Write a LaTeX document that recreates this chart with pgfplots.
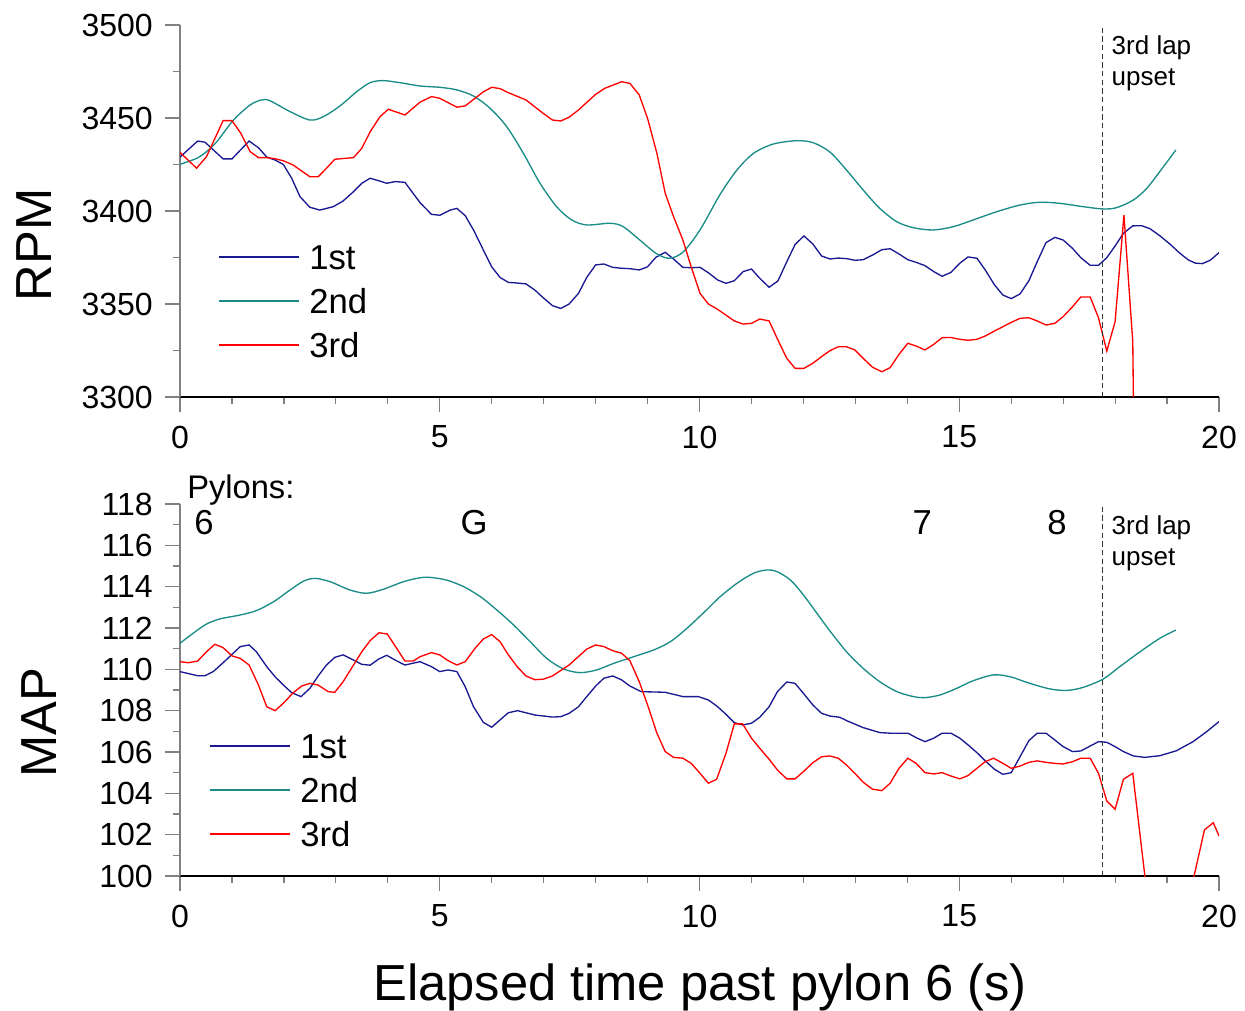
\documentclass[border=0pt]{standalone}
\usepackage{pgfplots}
\pgfplotsset{compat=1.18}
\usepackage{fontspec}
\setmainfont{Liberation Sans}
\definecolor{c1}{RGB}{25,25,145}
\definecolor{c2}{RGB}{25,140,135}
\definecolor{c3}{RGB}{255,0,0}
\pgfplotsset{
 panel/.style={
  scale only axis, width=779.25pt, height=279pt,
  xmin=0, xmax=20, xtick={0,5,...,20}, minor x tick num=4,
  axis x line=bottom, axis y line=left,
  x axis line style={-, black, line width=0.9pt},
  y axis line style={-, gray, line width=0.9pt},
  tick align=outside, major tick length=11.25pt, minor tick length=5.6pt,
  tick style={gray, line width=0.9pt},
  /pgf/number format/assume math mode=true,
  /pgf/number format/1000 sep={},
  ticklabel style={font=\fontsize{24}{28}\selectfont},
  xticklabel style={anchor=center, inner sep=0pt, yshift=-18.75pt},
  yticklabel style={anchor=east, inner sep=0pt, xshift=-9pt},
  clip mode=individual,
  legend cell align=left,
  legend image code/.code={\draw[##1] (0pt,0pt) -- (60pt,0pt);},
  every axis y label/.style={at={(axis description cs:-0.1232,0.409)}, rotate=90, anchor=base, font=\fontsize{38}{44}\selectfont},
 },
 lg/.style={draw=none, fill=none, inner sep=0pt, outer sep=0pt,
  font=\fontsize{26}{30}\selectfont, row sep=15pt,
  nodes={inner sep=0pt, text height=18pt, text depth=0pt},
  /tikz/every odd column/.append style={column sep=7.5pt}},
 s1/.style={c1, line width=1pt},
 s2/.style={c2, line width=1pt, smooth},
 s3/.style={c3, line width=1pt},
 dsh/.style={black!80, line width=0.8pt, dash pattern=on 4pt off 2.5pt, forget plot},
}
\begin{document}
\begin{tikzpicture}
\useasboundingbox (0,0) rectangle (933.75pt,757.5pt);
% ---------------- top: RPM
\begin{axis}[panel, at={(135pt,459.75pt)}, anchor=south west,
  ymin=3300, ymax=3500, ytick={3300,3350,...,3500}, minor y tick num=1,
  ylabel={RPM},
  legend style={lg, at={(axis cs:0.731,3381.7)}, anchor=north west}]
\addplot[s1] coordinates {(0,3429) (0.34,3437.6) (0.48,3437) (0.83,3428) (1.0,3428) (1.33,3437.6) (1.51,3434) (1.67,3429) (1.83,3427.4) (1.99,3425) (2.15,3417.6) (2.31,3407.7) (2.50,3402) (2.69,3400.5) (2.95,3402.3) (3.14,3405.4) (3.34,3410.4) (3.50,3414.9) (3.66,3417.6) (3.82,3416.3) (3.98,3414.9) (4.14,3415.8) (4.33,3415.4) (4.62,3404.5) (4.84,3398.2) (5.00,3397.7) (5.20,3400.5) (5.33,3401.4) (5.49,3397.5) (5.65,3389.8) (5.84,3379) (6.00,3370) (6.16,3364.3) (6.32,3361.6) (6.48,3361.3) (6.66,3360.8) (6.83,3357.5) (6.99,3353.4) (7.17,3349.1) (7.33,3347.6) (7.49,3350) (7.67,3355.7) (7.83,3364.3) (8.00,3371) (8.16,3371.5) (8.33,3369.7) (8.50,3369.2) (8.66,3369) (8.84,3368.3) (9.00,3370) (9.16,3375.1) (9.34,3377.8) (9.50,3374.2) (9.68,3369.7) (9.84,3369.5) (10.01,3369.7) (10.17,3366.8) (10.35,3362.9) (10.51,3361.1) (10.67,3362.5) (10.84,3367.4) (11.00,3368.8) (11.16,3363.8) (11.34,3359) (11.51,3362.4) (11.68,3372.7) (11.84,3382) (12.01,3386.6) (12.18,3382.3) (12.35,3375.8) (12.51,3374.2) (12.67,3374.7) (12.83,3374.4) (12.99,3373.5) (13.15,3373.8) (13.33,3376.3) (13.51,3379.2) (13.67,3379.7) (13.84,3376.9) (14.01,3373.8) (14.17,3372.4) (14.34,3370.6) (14.51,3367.4) (14.67,3364.9) (14.84,3367) (15.01,3371.9) (15.17,3375.3) (15.34,3374.6) (15.50,3368.3) (15.68,3360.2) (15.84,3354.8) (16.00,3352.9) (16.17,3355.4) (16.34,3362.5) (16.50,3372.7) (16.67,3383) (16.84,3385.8) (17.00,3384.4) (17.18,3379.9) (17.34,3374.9) (17.52,3370.8) (17.68,3370.8) (17.84,3374.9) (18.00,3381.2) (18.16,3388) (18.34,3392) (18.51,3392.1) (18.67,3390.5) (18.86,3386.7) (19.06,3382.1) (19.25,3377.2) (19.41,3373.7) (19.54,3372) (19.68,3371.7) (19.83,3373.5) (20.0,3377.6)};
\addplot[s2] coordinates {(0,3425.1) (0.32,3428.3) (0.51,3431.9) (0.71,3437.3) (1.03,3448.9) (1.35,3457) (1.57,3459.7) (1.73,3459.3) (2.12,3453.4) (2.50,3448.9) (2.76,3450.7) (3.08,3456.5) (3.40,3464.1) (3.66,3469) (3.91,3470.1) (4.23,3469) (4.62,3467.2) (5.00,3466.5) (5.33,3465.1) (5.65,3461.8) (5.97,3455.2) (6.29,3445.3) (6.61,3431) (6.93,3414.9) (7.25,3402.3) (7.54,3395.2) (7.83,3392.5) (8.28,3393.4) (8.53,3391.6) (8.85,3384.4) (9.18,3376.9) (9.43,3374.6) (9.69,3378.1) (10.01,3389.8) (10.39,3408.6) (10.72,3422) (11.04,3431) (11.42,3436) (11.87,3437.8) (12.19,3436.7) (12.51,3431.7) (12.83,3422) (13.15,3411.3) (13.47,3401.4) (13.80,3394.2) (14.12,3391) (14.50,3389.8) (14.89,3391.6) (15.27,3395.2) (15.72,3399.6) (16.17,3403.2) (16.55,3404.7) (16.94,3404.1) (17.39,3402.3) (17.77,3401.1) (18.03,3401.8) (18.35,3405.9) (18.61,3412.2) (18.93,3423.8) (19.17,3432.8)};
\addplot[s3] coordinates {(0,3431.5) (0.32,3423) (0.51,3429.2) (0.83,3448.6) (1.00,3448.6) (1.17,3441.8) (1.35,3431.9) (1.51,3428.7) (1.67,3428.7) (1.83,3428.1) (1.99,3427) (2.18,3424.7) (2.50,3418.4) (2.66,3418.4) (2.82,3423) (2.98,3427.8) (3.34,3428.7) (3.50,3433.7) (3.66,3442.6) (3.85,3450.7) (4.01,3454.7) (4.33,3451.6) (4.62,3458.5) (4.84,3461.5) (5.00,3460.6) (5.33,3455.8) (5.49,3456.5) (5.68,3460.6) (5.84,3464.1) (6.00,3466.5) (6.16,3465.8) (6.32,3463.6) (6.66,3459.7) (6.99,3452.5) (7.17,3448.9) (7.33,3448.4) (7.49,3450.4) (7.67,3454.3) (8.00,3462.7) (8.18,3466) (8.50,3469.5) (8.66,3468.6) (8.84,3462.4) (9.00,3449.8) (9.18,3431) (9.34,3409.5) (9.50,3397) (9.68,3384.4) (9.84,3370) (10.01,3355.7) (10.17,3350) (10.35,3347.1) (10.67,3340.9) (10.84,3339.2) (11.00,3339.6) (11.16,3341.9) (11.34,3340.9) (11.51,3330.6) (11.68,3320.8) (11.84,3315.4) (12.01,3315.4) (12.18,3318.1) (12.35,3321.7) (12.51,3324.9) (12.67,3327) (12.83,3327) (12.99,3325.3) (13.15,3320.8) (13.33,3316) (13.51,3313.6) (13.67,3315.8) (13.84,3322.9) (14.01,3328.9) (14.17,3327.4) (14.34,3325.3) (14.51,3328.3) (14.67,3331.9) (14.84,3332) (15.01,3331) (15.17,3330.5) (15.34,3331) (15.50,3332.8) (15.68,3335.5) (16.00,3340.1) (16.17,3342.3) (16.34,3342.6) (16.50,3340.9) (16.67,3338.7) (16.84,3339.6) (17.00,3343.2) (17.18,3348.5) (17.34,3353.8) (17.52,3353.8) (17.68,3342.6) (17.84,3324.7) (18.00,3340.5) (18.17,3397.8) (18.34,3329.7) (18.36,3280)};
\addplot[dsh] coordinates {(17.76,3300) (17.76,3500)};
\legend{1st,2nd,3rd}
\node[anchor=base west, inner sep=0pt, font=\fontsize{19.5}{22}\selectfont] at (axis cs:17.93,3484.4) {3rd lap};
\node[anchor=base west, inner sep=0pt, font=\fontsize{19.5}{22}\selectfont] at (axis cs:17.93,3467.7) {upset};
\end{axis}
% ---------------- bottom: MAP
\begin{axis}[panel, at={(135pt,100.5pt)}, anchor=south west,
  ymin=100, ymax=118, ytick={100,102,...,118}, minor y tick num=1,
  ylabel={MAP},
  every axis y label/.style={at={(axis description cs:-0.1184,0.413)}, rotate=90, anchor=base, font=\fontsize{38}{44}\selectfont},
  xlabel={Elapsed time past pylon 6 (s)},
  every axis x label/.style={at={(axis description cs:0.5005,-0.336)}, anchor=base, font=\fontsize{38}{44}\selectfont},
  legend style={lg, at={(axis cs:0.558,106.87)}, anchor=north west}]
\addplot[s1] coordinates {(0,109.89) (0.34,109.69) (0.48,109.69) (0.64,109.89) (0.83,110.32) (1.16,111.1) (1.33,111.18) (1.47,110.85) (1.67,110.13) (1.83,109.64) (1.99,109.24) (2.15,108.87) (2.33,108.68) (2.50,109.08) (2.66,109.68) (2.82,110.21) (2.98,110.58) (3.14,110.7) (3.34,110.45) (3.50,110.24) (3.66,110.2) (3.82,110.49) (3.98,110.68) (4.14,110.45) (4.33,110.21) (4.62,110.37) (4.84,110.13) (5.00,109.89) (5.16,109.97) (5.33,109.89) (5.49,109.16) (5.65,108.19) (5.84,107.43) (6.00,107.2) (6.16,107.55) (6.32,107.9) (6.50,108) (6.83,107.79) (7.17,107.69) (7.33,107.71) (7.49,107.87) (7.67,108.19) (7.83,108.68) (8.00,109.19) (8.16,109.57) (8.33,109.68) (8.50,109.49) (8.66,109.19) (8.88,108.92) (9.34,108.89) (9.68,108.68) (9.98,108.68) (10.17,108.52) (10.33,108.23) (10.49,107.87) (10.67,107.42) (10.83,107.31) (11.00,107.39) (11.16,107.68) (11.34,108.19) (11.50,108.92) (11.68,109.39) (11.84,109.32) (12.00,108.84) (12.18,108.28) (12.35,107.87) (12.51,107.74) (12.70,107.68) (12.83,107.52) (13.15,107.18) (13.47,106.94) (13.67,106.91) (14.01,106.91) (14.19,106.67) (14.34,106.5) (14.51,106.67) (14.67,106.91) (14.84,106.91) (15.01,106.67) (15.17,106.34) (15.34,105.97) (15.50,105.57) (15.68,105.16) (15.84,104.92) (16.00,105) (16.17,105.77) (16.34,106.55) (16.50,106.91) (16.67,106.91) (16.84,106.58) (17.00,106.26) (17.18,106.02) (17.34,106.05) (17.52,106.29) (17.68,106.5) (17.84,106.47) (18.00,106.26) (18.16,106.02) (18.35,105.81) (18.57,105.74) (18.86,105.82) (19.18,106.06) (19.50,106.5) (19.76,106.98) (20.0,107.47)};
\addplot[s2] coordinates {(0,111.26) (0.25,111.74) (0.51,112.19) (0.77,112.44) (1.16,112.63) (1.47,112.84) (1.80,113.27) (2.12,113.84) (2.38,114.27) (2.60,114.4) (2.89,114.24) (3.27,113.84) (3.59,113.68) (3.91,113.87) (4.30,114.24) (4.62,114.43) (4.81,114.45) (5.13,114.32) (5.46,114) (5.78,113.52) (6.10,112.87) (6.42,112.15) (6.74,111.34) (7.06,110.53) (7.38,110.02) (7.70,109.84) (8.02,109.97) (8.35,110.29) (8.67,110.56) (9.12,110.94) (9.44,111.34) (9.76,111.99) (10.08,112.74) (10.40,113.52) (10.72,114.16) (11.04,114.65) (11.30,114.81) (11.49,114.73) (11.75,114.32) (12.00,113.6) (12.33,112.47) (12.51,111.86) (12.83,110.85) (13.15,110.05) (13.47,109.4) (13.80,108.92) (14.12,108.68) (14.34,108.63) (14.63,108.76) (14.95,109.08) (15.27,109.45) (15.66,109.73) (15.98,109.64) (16.36,109.32) (16.75,109.05) (17.07,108.98) (17.39,109.13) (17.77,109.53) (18.09,110.13) (18.48,110.85) (18.86,111.5) (19.17,111.9)};
\addplot[s3] coordinates {(0,110.37) (0.16,110.32) (0.34,110.4) (0.51,110.85) (0.67,111.21) (0.83,111.05) (1.00,110.65) (1.16,110.53) (1.33,110.21) (1.51,109.24) (1.67,108.19) (1.83,108) (1.99,108.36) (2.18,108.87) (2.34,109.19) (2.50,109.32) (2.66,109.24) (2.85,108.92) (2.98,108.89) (3.14,109.4) (3.34,110.21) (3.50,110.85) (3.66,111.39) (3.83,111.77) (3.99,111.71) (4.17,111.02) (4.33,110.4) (4.49,110.4) (4.62,110.61) (4.84,110.81) (5.00,110.7) (5.16,110.42) (5.33,110.21) (5.49,110.37) (5.68,111.02) (5.84,111.47) (6.00,111.68) (6.16,111.34) (6.32,110.7) (6.50,110.1) (6.66,109.68) (6.83,109.5) (6.99,109.52) (7.17,109.68) (7.49,110.21) (7.83,110.98) (8.00,111.18) (8.16,111.1) (8.33,110.9) (8.50,110.78) (8.66,110.42) (8.84,109.4) (9.00,108.28) (9.18,106.91) (9.34,106.02) (9.50,105.74) (9.68,105.7) (9.84,105.45) (10.01,104.97) (10.17,104.49) (10.33,104.68) (10.51,105.94) (10.67,107.36) (10.83,107.36) (11.00,106.67) (11.16,106.18) (11.34,105.65) (11.50,105.13) (11.68,104.7) (11.84,104.7) (12.00,105.05) (12.18,105.48) (12.35,105.77) (12.51,105.81) (12.67,105.7) (12.83,105.37) (12.99,104.97) (13.15,104.54) (13.33,104.2) (13.51,104.13) (13.67,104.49) (13.84,105.21) (14.01,105.7) (14.17,105.45) (14.34,105) (14.51,104.94) (14.67,105) (14.84,104.84) (15.01,104.7) (15.17,104.86) (15.34,105.21) (15.50,105.53) (15.66,105.7) (15.84,105.45) (16.00,105.21) (16.17,105.32) (16.34,105.5) (16.50,105.57) (16.67,105.5) (16.84,105.45) (17.00,105.42) (17.18,105.53) (17.34,105.7) (17.52,105.7) (17.68,104.97) (17.84,103.63) (18.00,103.23) (18.16,104.68) (18.34,104.97) (18.62,99) (19.43,99) (19.72,102.23) (19.89,102.58) (20.0,101.94)};
\addplot[dsh] coordinates {(17.76,100) (17.76,118)};
\legend{1st,2nd,3rd}
\node[anchor=base west, inner sep=0pt, font=\fontsize{24.5}{28}\selectfont] at (axis cs:0.135,118.29) {Pylons:};
\node[anchor=base, inner sep=0pt, font=\fontsize{26}{30}\selectfont] at (axis cs:0.46,116.5) {6};
\node[anchor=base, inner sep=0pt, font=\fontsize{26}{30}\selectfont] at (axis cs:5.66,116.5) {G};
\node[anchor=base, inner sep=0pt, font=\fontsize{26}{30}\selectfont] at (axis cs:14.29,116.5) {7};
\node[anchor=base, inner sep=0pt, font=\fontsize{26}{30}\selectfont] at (axis cs:16.88,116.5) {8};
\node[anchor=base west, inner sep=0pt, font=\fontsize{19.5}{22}\selectfont] at (axis cs:17.93,116.53) {3rd lap};
\node[anchor=base west, inner sep=0pt, font=\fontsize{19.5}{22}\selectfont] at (axis cs:17.93,115.03) {upset};
\end{axis}
\end{tikzpicture}
\end{document}
